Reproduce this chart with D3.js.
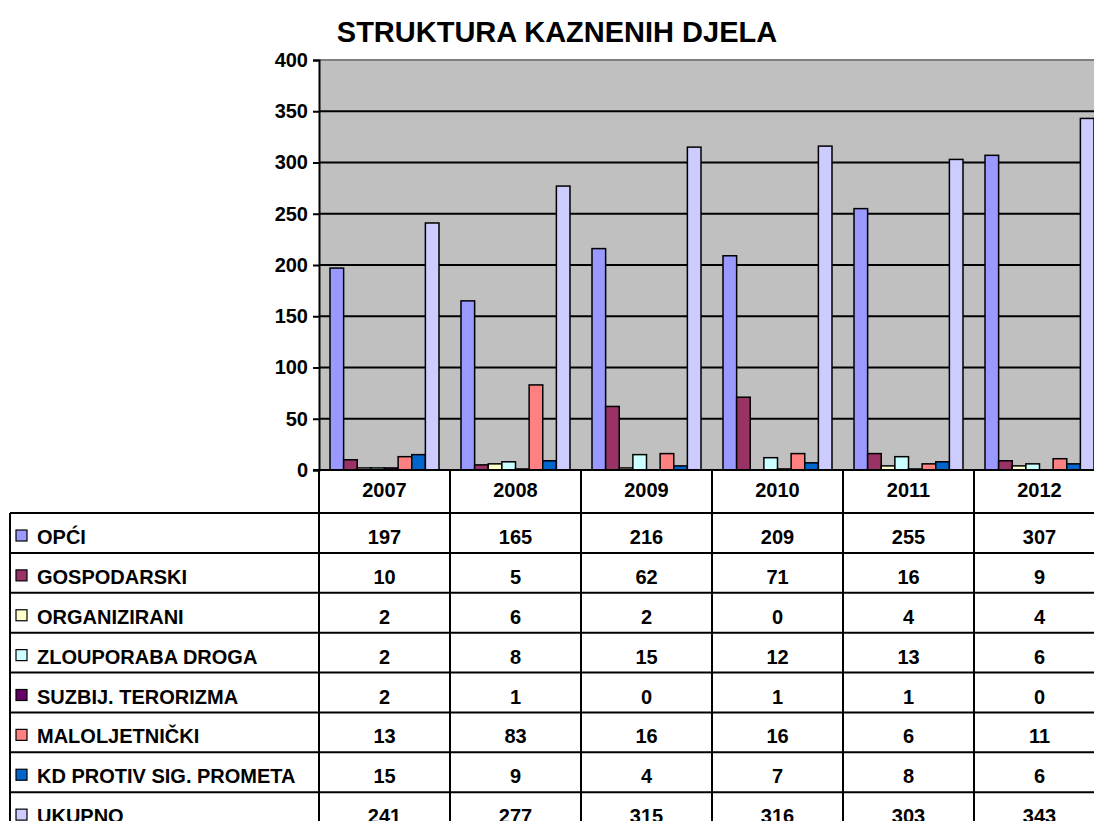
<!DOCTYPE html>
<meta charset="utf-8">
<script src="https://d3js.org/d3.v7.min.js"></script>
<style>
  body { margin: 0; background: #fff; }
  svg { display: block; font-family: "Liberation Sans", Arial, sans-serif; font-weight: bold; }
</style>
<div id="my_dataviz"></div>
<script>

// data
var years = ["2007", "2008", "2009", "2010", "2011", "2012"];
var series = ["OPĆI", "GOSPODARSKI", "ORGANIZIRANI", "ZLOUPORABA DROGA", "SUZBIJ. TERORIZMA", "MALOLJETNIČKI", "KD PROTIV SIG. PROMETA", "UKUPNO"];
var colors = ["#9999ff", "#993366", "#ffffcc", "#ccffff", "#660066", "#ff8080", "#0066cc", "#ccccff"];
var opci = [197, 165, 216, 209, 255, 307];
var gospodarski = [10, 5, 62, 71, 16, 9];
var organizirani = [2, 6, 2, 0, 4, 4];
var zlouporaba = [2, 8, 15, 12, 13, 6];
var terorizam = [2, 1, 0, 1, 1, 0];
var maloljetnicki = [13, 83, 16, 16, 6, 11];
var promet = [15, 9, 4, 7, 8, 6];
var ukupno = [241, 277, 315, 316, 303, 343];
var yTicks = [0, 50, 100, 150, 200, 250, 300, 350, 400];

var values = [opci, gospodarski, organizirani, zlouporaba, terorizam, maloljetnicki, promet, ukupno];

var width = 1094, height = 821;
var svg = d3.select("#my_dataviz")
  .append("svg")
    .attr("width", width)
    .attr("height", height);

// title
svg.append("text")
  .attr("x", 557)
  .attr("y", 42)
  .attr("text-anchor", "middle")
  .style("font-size", "29px")
  .text("STRUKTURA KAZNENIH DJELA");

// scales
var x = d3.scaleBand()
  .domain(years)
  .range([319, 1105]);

var xs = d3.scaleBand()
  .domain(series)
  .range([11, 120]);

var y = d3.scaleLinear()
  .domain([0, 400])
  .range([470, 60]);

// plot background
svg.append("rect")
  .attr("x", 319)
  .attr("y", y(400))
  .attr("width", 1105 - 319)
  .attr("height", y(0) - y(400))
  .attr("fill", "#c0c0c0");

// gridlines
svg.append("g")
  .selectAll("line")
  .data(yTicks.filter(function(d) { return d > 0; }))
  .enter().append("line")
    .attr("x1", 319)
    .attr("x2", 1105)
    .attr("y1", function(d) { return y(d); })
    .attr("y2", function(d) { return y(d); })
    .attr("stroke", function(d) { return d == 400 ? "#808080" : "#000"; })
    .attr("stroke-width", 2);

// bars
var rows = [];
years.forEach(function(yr, i) {
  series.forEach(function(s, j) {
    rows.push({year: yr, series: s, value: values[j][i], color: colors[j]});
  });
});

svg.append("g")
  .selectAll("rect")
  .data(rows)
  .enter().append("rect")
    .attr("x", function(d) { return x(d.year) + xs(d.series); })
    .attr("y", function(d) { return y(d.value); })
    .attr("width", xs.bandwidth())
    .attr("height", function(d) { return y(0) - y(d.value); })
    .attr("fill", function(d) { return d.color; })
    .attr("stroke", "#000")
    .attr("stroke-width", 1.5);

// y axis
var yAxis = svg.append("g")
  .attr("transform", "translate(319,0)")
  .call(d3.axisLeft(y).tickValues(yTicks).tickSize(6).tickPadding(5));
yAxis.select(".domain").attr("stroke-width", 2);
yAxis.selectAll(".tick line").attr("stroke-width", 2);
yAxis.selectAll("text")
  .style("font-size", "20px")
  .style("font-family", "Liberation Sans, Arial, sans-serif")
  .style("font-weight", "bold")
  .attr("fill", "#000");

// x axis line
svg.append("line")
  .attr("x1", 313)
  .attr("x2", 1105)
  .attr("y1", y(0))
  .attr("y2", y(0))
  .attr("stroke", "#000")
  .attr("stroke-width", 2);

// data table
var ry = d3.scaleBand()
  .domain(series)
  .range([513, 832]);

var table = svg.append("g");

// header row (years)
table.selectAll(".yr")
  .data(years)
  .enter().append("text")
    .attr("x", function(d) { return x(d) + x.bandwidth() / 2; })
    .attr("y", 497)
    .attr("text-anchor", "middle")
    .style("font-size", "20px")
    .text(function(d) { return d; });

// horizontal lines
table.selectAll(".hl")
  .data(series)
  .enter().append("line")
    .attr("x1", 10)
    .attr("x2", 1105)
    .attr("y1", function(d) { return ry(d); })
    .attr("y2", function(d) { return ry(d); })
    .attr("stroke", "#000")
    .attr("stroke-width", 2);

// vertical lines
table.selectAll(".vl")
  .data(years.slice(1))
  .enter().append("line")
    .attr("x1", function(d) { return x(d); })
    .attr("x2", function(d) { return x(d); })
    .attr("y1", y(0))
    .attr("y2", height)
    .attr("stroke", "#000")
    .attr("stroke-width", 2);

table.append("line")
  .attr("x1", 319).attr("x2", 319)
  .attr("y1", y(0)).attr("y2", height)
  .attr("stroke", "#000").attr("stroke-width", 2);

table.append("line")
  .attr("x1", 10).attr("x2", 10)
  .attr("y1", ry(series[0])).attr("y2", height)
  .attr("stroke", "#000").attr("stroke-width", 2);

// row labels with legend keys
var rowG = table.selectAll(".row")
  .data(series)
  .enter().append("g")
    .attr("transform", function(d) { return "translate(0," + ry(d) + ")"; });

rowG.append("rect")
  .attr("x", 16)
  .attr("y", 17)
  .attr("width", 11)
  .attr("height", 11)
  .attr("fill", function(d, i) { return colors[i]; })
  .attr("stroke", "#000")
  .attr("stroke-width", 1.2);

rowG.append("text")
  .attr("x", 37)
  .attr("y", 31)
  .style("font-size", "20px")
  .text(function(d) { return d; });

rowG.selectAll(".val")
  .data(function(d, i) { return values[i].map(function(v, k) { return {year: years[k], value: v}; }); })
  .enter().append("text")
    .attr("x", function(d) { return x(d.year) + x.bandwidth() / 2; })
    .attr("y", 31)
    .attr("text-anchor", "middle")
    .style("font-size", "20px")
    .text(function(d) { return d.value; });

</script>
